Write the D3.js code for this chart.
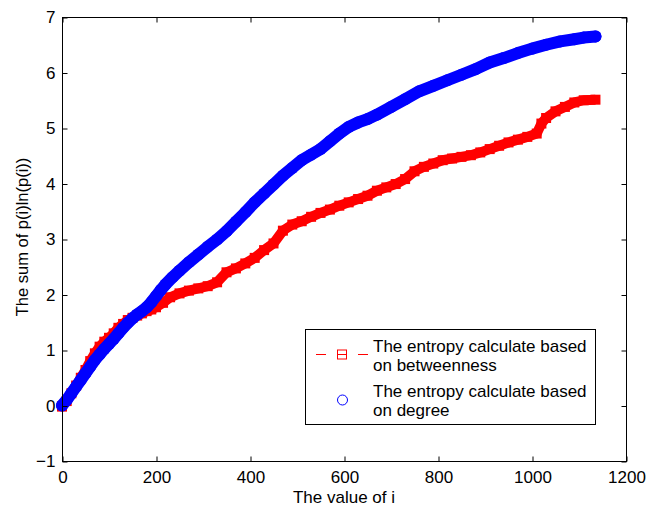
<!DOCTYPE html>
<html><head><meta charset="utf-8">
<script src="https://cdn.jsdelivr.net/npm/d3@7/dist/d3.min.js"></script>
<style>
body{margin:0;background:#fff;}
svg{display:block;font-family:"Liberation Sans",Arial,Helvetica,sans-serif;}
</style></head>
<body>
<svg id="chart" width="651" height="509"></svg>
<script>
// ---- data ----
const betweennessI = [0,10,20,30,40,50,60,70,80,90,100,110,120,130,140,150,160,170,180,190,200,215,230,250,270,290,310,330,350,370,390,410,430,450,470,490,510,530,550,570,590,610,630,650,670,690,710,730,750,770,790,810,830,850,870,890,910,930,950,970,990,1010,1020,1030,1050,1070,1090,1110,1135];
const betweennessV = [-0.02,0.08,0.22,0.36,0.5,0.64,0.8,0.94,1.06,1.15,1.22,1.3,1.4,1.47,1.54,1.58,1.62,1.66,1.7,1.73,1.77,1.85,1.95,2.02,2.07,2.11,2.15,2.22,2.4,2.47,2.56,2.66,2.8,2.92,3.15,3.26,3.32,3.4,3.47,3.53,3.6,3.66,3.72,3.78,3.87,3.93,3.99,4.08,4.22,4.3,4.36,4.42,4.45,4.48,4.51,4.56,4.62,4.68,4.74,4.79,4.84,4.9,5.08,5.18,5.3,5.38,5.46,5.5,5.51];
const degreeI = [0,10,20,30,40,50,60,70,80,90,100,110,120,130,140,150,160,170,180,190,200,210,220,235,250,270,290,310,330,350,370,390,410,430,450,470,490,510,530,550,570,590,610,630,650,670,700,730,760,790,820,850,880,910,940,970,1000,1030,1060,1090,1110,1135];
const degreeV = [0.0,0.1,0.22,0.34,0.46,0.58,0.7,0.82,0.92,1.02,1.11,1.2,1.3,1.4,1.49,1.57,1.64,1.7,1.77,1.86,1.97,2.08,2.18,2.31,2.43,2.58,2.72,2.86,2.99,3.14,3.31,3.48,3.66,3.82,3.98,4.14,4.28,4.42,4.52,4.62,4.76,4.9,5.02,5.1,5.16,5.24,5.38,5.52,5.66,5.76,5.86,5.96,6.06,6.18,6.26,6.35,6.43,6.5,6.56,6.6,6.63,6.65];
const xTicks = [0,200,400,600,800,1000,1200];
const yTicks = [-1,0,1,2,3,4,5,6,7];
const xLabel = "The value of i";
const yLabel = "The sum of p(i)ln(p(i))";
const legendLabels = [["The entropy calculate based","on betweenness"],["The entropy calculate based","on degree"]];

const svg = d3.select("#chart");
const L=62, R=626, T=17, B=461;
const x = d3.scaleLinear().domain([0,1200]).range([L,R]);
const y = d3.scaleLinear().domain([-1,7]).range([B,T]);
const fs = 17;

const red = betweennessI.map((d,i)=>[d,betweennessV[i]]);
const blue = degreeI.map((d,i)=>[d,degreeV[i]]);
const line = d3.line().x(d=>x(d[0])).y(d=>y(d[1]));

const plot = svg.append("g");
plot.append("path").attr("d",line(red)).attr("fill","none").attr("stroke","#ff0000")
  .attr("stroke-width",10).attr("stroke-linejoin","round");
const sq = 10;
plot.selectAll("rect.r").data(red).join("rect").attr("class","r")
  .attr("x",d=>x(d[0])-sq/2).attr("y",d=>y(d[1])-sq/2).attr("width",sq).attr("height",sq)
  .attr("fill","#ff0000");
plot.append("path").attr("d",line(blue)).attr("fill","none").attr("stroke","#0000ff")
  .attr("stroke-width",12).attr("stroke-linejoin","round").attr("stroke-linecap","round");
plot.selectAll("circle.b").data(blue).join("circle").attr("class","b")
  .attr("cx",d=>x(d[0])).attr("cy",d=>y(d[1])).attr("r",6).attr("fill","#0000ff");

const ax = svg.append("g");
ax.append("rect").attr("x",L+0.5).attr("y",T+0.5).attr("width",R-L).attr("height",B-T)
  .attr("fill","none").attr("stroke","#000").attr("stroke-width",1);

const tl = 5;
const axB = d3.axisBottom(x).tickValues(xTicks).tickSize(-tl).tickPadding(9).tickFormat(d3.format("d"));
const axL = d3.axisLeft(y).tickValues(yTicks).tickSize(-tl).tickPadding(7).tickFormat(d=>d<0?"\u2212"+Math.abs(d):d);
const axT = d3.axisTop(x).tickValues(xTicks).tickSize(-tl).tickFormat("");
const axR = d3.axisRight(y).tickValues(yTicks).tickSize(-tl).tickFormat("");
function style(g){
  g.select(".domain").remove();
  g.selectAll(".tick line").attr("stroke","#000");
  g.selectAll(".tick text").attr("fill","#000").style("font-size",fs+"px").style("font-family","'Liberation Sans',Arial,sans-serif");
}
ax.append("g").attr("transform",`translate(0.5,${B+0.5})`).call(axB).call(style);
ax.append("g").attr("transform",`translate(${L+0.5},0.5)`).call(axL).call(style);
ax.append("g").attr("transform",`translate(0.5,${T+0.5})`).call(axT).call(style);
ax.append("g").attr("transform",`translate(${R+0.5},0.5)`).call(axR).call(style);

svg.append("text").attr("x",(L+R)/2).attr("y",503).attr("text-anchor","middle")
  .style("font-size",fs+"px").text(xLabel);
svg.append("text").attr("transform",`translate(28,237) rotate(-90)`).attr("text-anchor","middle")
  .style("font-size","16.5px").text(yLabel);

const lg = svg.append("g");
lg.append("rect").attr("x",305.5).attr("y",329.5).attr("width",290).attr("height",95)
  .attr("fill","#fff").attr("stroke","#000").attr("stroke-width",1);
lg.append("line").attr("x1",316).attr("x2",368).attr("y1",354.5).attr("y2",354.5)
  .attr("stroke","#ff0000").attr("stroke-width",1).attr("stroke-dasharray","10,11");
lg.append("rect").attr("x",337.5).attr("y",350).attr("width",9).attr("height",9)
  .attr("fill","none").attr("stroke","#ff0000").attr("stroke-width",1);
lg.append("circle").attr("cx",342.5).attr("cy",400).attr("r",5)
  .attr("fill","none").attr("stroke","#0000ff").attr("stroke-width",1);
const baselines = [[351.5,371],[396.5,415.5]];
legendLabels.forEach((lines,k)=>{
  lines.forEach((t,j)=>{
    lg.append("text").attr("x",373).attr("y",baselines[k][j]).style("font-size",fs+"px").text(t);
  });
});
</script>
</body></html>
